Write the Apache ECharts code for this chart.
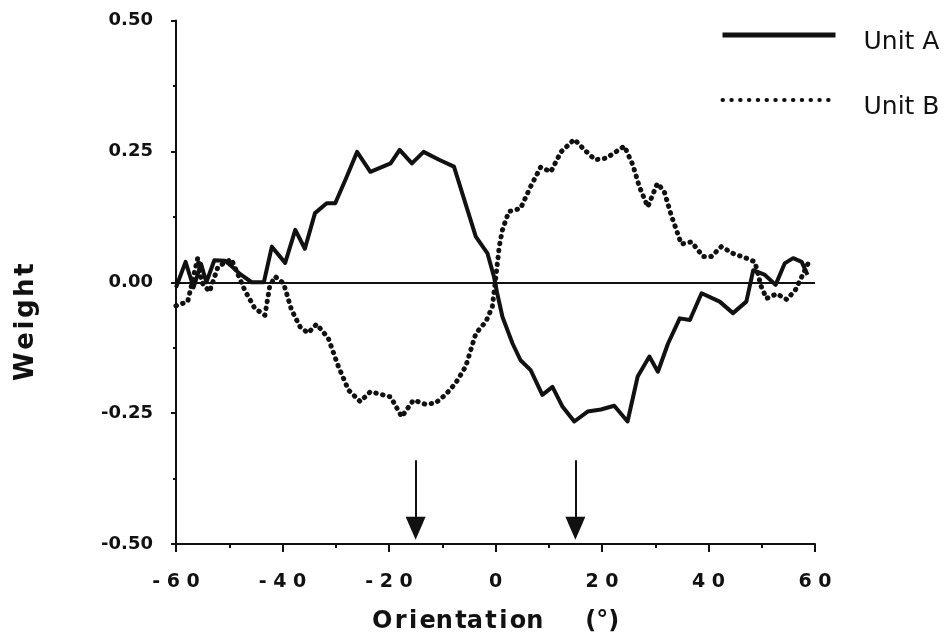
<!DOCTYPE html>
<html>
<head>
<meta charset="utf-8">
<script src="https://cdn.jsdelivr.net/npm/echarts@6/dist/echarts.min.js"></script>
<style>html,body{margin:0;padding:0;background:#fff;}#chart{width:946px;height:640px;}</style>
</head>
<body>
<div id="chart"></div>
<script>
// ---- data ----
var seriesNames = ['Unit A', 'Unit B'];
var unitA = [[-60,-0.01],[-58.2,0.039],[-56.7,-0.01],[-55.3,0.035],[-54.3,0.0],[-52.8,0.042],[-50.8,0.041],[-49.5,0.03],[-48,0.016],[-45.8,0.0],[-43.5,0.0],[-42,0.068],[-39.5,0.037],[-37.6,0.1],[-35.8,0.064],[-33.9,0.132],[-31.7,0.151],[-30.1,0.151],[-28,0.2],[-26,0.249],[-23.5,0.211],[-19.7,0.227],[-18,0.253],[-15.7,0.227],[-13.5,0.249],[-10.6,0.234],[-7.8,0.221],[-3.7,0.087],[-1.5,0.055],[-0.3,0.011],[0.3,-0.02],[1.3,-0.066],[3.2,-0.117],[4.7,-0.149],[6.6,-0.168],[8.8,-0.215],[10.7,-0.2],[12.6,-0.238],[14.8,-0.266],[17.3,-0.247],[19.8,-0.243],[22.3,-0.236],[24.8,-0.266],[26.7,-0.18],[28.9,-0.142],[30.5,-0.171],[32.4,-0.117],[34.6,-0.069],[36.5,-0.072],[38.7,-0.021],[42.1,-0.037],[44.6,-0.059],[47.1,-0.037],[48.4,0.023],[50.6,0.014],[52.6,-0.005],[54.3,0.036],[55.9,0.046],[57.5,0.039],[58.6,0.014]];
var unitB = [[-60,-0.045],[-57.8,-0.037],[-55.9,0.047],[-55.2,0.0],[-53.7,-0.018],[-52.1,0.03],[-49.6,0.044],[-48.7,0.023],[-47.1,-0.015],[-45.2,-0.05],[-43.3,-0.063],[-42.4,-0.008],[-41.4,0.011],[-39.8,-0.002],[-38.3,-0.053],[-36.7,-0.085],[-35.2,-0.097],[-33.6,-0.08],[-31.4,-0.107],[-29.5,-0.161],[-27.6,-0.206],[-25.4,-0.228],[-23.5,-0.209],[-19.7,-0.219],[-17.6,-0.257],[-15.4,-0.225],[-13.2,-0.233],[-11.3,-0.231],[-9.4,-0.215],[-7.5,-0.193],[-5.6,-0.161],[-3.7,-0.098],[-1.8,-0.075],[-0.6,-0.047],[0.0,0.004],[0.7,0.068],[1.3,0.10],[2.5,0.135],[4.7,0.141],[6.6,0.183],[8.5,0.22],[10.4,0.211],[12.3,0.249],[14.8,0.273],[16.7,0.253],[18.7,0.234],[20.8,0.237],[24.2,0.26],[25.8,0.224],[27.0,0.183],[28.6,0.144],[30.4,0.189],[31.7,0.173],[33.0,0.128],[34.9,0.073],[36.8,0.077],[39.0,0.049],[40.5,0.049],[42.4,0.068],[44.6,0.055],[47.1,0.046],[48.7,0.039],[49.9,-0.008],[50.9,-0.031],[52.8,-0.022],[54.7,-0.033],[56.3,-0.015],[57.2,0.004],[58.7,0.036]];
var xTicks = [-60, -40, -20, 0, 20, 40, 60];
var xTickLabels = ['- 6 0', '- 4 0', '- 2 0', '0', '2 0', '4 0', '6 0'];
var yTicks = [-0.5, -0.25, 0, 0.25, 0.5];
var yTickLabels = ['-0.50', '-0.25', '0.00', '0.25', '0.50'];
var arrowX = [-15, 15];
var arrowTop = -0.34;
var arrowEnd = -0.47;
var xName = 'O\u200Ar\u200Ai\u200Aen\u200Ata\u200At\u200Ai\u200Aon     (\u00B0)';
var yName = 'W\u200Ae\u200Ai\u200Ag\u200Ah\u200At';

var INK = '#111';
var FONT = '"DejaVu Sans", "Liberation Sans", sans-serif';

var chart = echarts.init(document.getElementById('chart'), null, {renderer: 'canvas'});

var arrowLines = arrowX.map(function (x) {
  return [
    {coord: [x, arrowTop], symbol: 'none'},
    {coord: [x, arrowEnd], symbol: 'triangle', symbolSize: [20, 23]}
  ];
});

var option = {
  backgroundColor: '#fff',
  animation: false,
  grid: {left: 176, right: 131, top: 20.5, bottom: 96},
  legend: {
    data: [
      {name: seriesNames[0], lineStyle: {width: 5}},
      {name: seriesNames[1], lineStyle: {width: 4, type: [0.5, 8.3], cap: 'round'}}
    ],
    orient: 'vertical',
    left: 715,
    top: 22,
    itemWidth: 113,
    itemHeight: 20,
    itemGap: 37,
    selectedMode: false,
    itemStyle: {opacity: 0},
    formatter: function (name) { return '{t|' + name + '}'; },
    textStyle: {
      fontFamily: FONT, fontSize: 25, color: INK, padding: [0, 0, 0, 23],
      rich: {t: {fontFamily: FONT, fontSize: 25, color: INK, lineHeight: 40, verticalAlign: 'bottom'}}
    }
  },
  xAxis: {
    type: 'value',
    min: -60, max: 60, interval: 20,
    axisLine: {show: true, onZero: false, lineStyle: {color: INK, width: 2}},
    axisTick: {show: true, inside: false, length: 8, lineStyle: {color: INK, width: 2}},
    minorTick: {show: true, splitNumber: 2, length: 4, lineStyle: {color: INK, width: 2}},
    splitLine: {show: false},
    minorSplitLine: {show: false},
    axisLabel: {
      margin: 29,
      fontFamily: FONT, fontWeight: 'bold', fontSize: 19, color: INK,
      formatter: function (v) {
        var i = xTicks.indexOf(Math.round(v));
        return i >= 0 ? xTickLabels[i] : '';
      }
    },
    name: xName,
    nameLocation: 'middle',
    nameGap: 66,
    nameTextStyle: {fontFamily: FONT, fontWeight: 'bold', fontSize: 24, color: INK}
  },
  yAxis: {
    type: 'value',
    min: -0.5, max: 0.5, interval: 0.25,
    axisLine: {show: true, onZero: false, lineStyle: {color: INK, width: 2}},
    axisTick: {show: true, inside: false, length: 5, lineStyle: {color: INK, width: 2}},
    minorTick: {show: true, splitNumber: 2, length: 3, lineStyle: {color: INK, width: 2}},
    splitLine: {show: false},
    minorSplitLine: {show: false},
    axisLabel: {
      margin: 23,
      fontFamily: FONT, fontWeight: 'bold', fontSize: 18, color: INK,
      formatter: function (v) {
        for (var i = 0; i < yTicks.length; i++) {
          if (Math.abs(yTicks[i] - v) < 1e-6) return yTickLabels[i];
        }
        return '';
      }
    },
    name: yName,
    nameLocation: 'middle',
    nameRotate: 90,
    nameGap: 137,
    nameTextStyle: {fontFamily: FONT, fontWeight: 'bold', fontSize: 26, color: INK, padding: [0, 80, 0, 0]}
  },
  series: [
    {
      name: seriesNames[0],
      type: 'line',
      data: unitA,
      symbol: 'none',
      lineStyle: {color: INK, width: 4, type: 'solid', join: 'round'},
      itemStyle: {color: INK},
      z: 3,
      markLine: {
        silent: true,
        symbol: ['none', 'none'],
        label: {show: false},
        emphasis: {disabled: true},
        lineStyle: {color: INK, width: 2, type: 'solid'},
        data: [{yAxis: 0}].concat(arrowLines)
      }
    },
    {
      name: seriesNames[1],
      type: 'line',
      data: unitB,
      symbol: 'none',
      lineStyle: {color: INK, width: 5, type: [0.5, 6.5], cap: 'round', join: 'round'},
      itemStyle: {color: INK},
      z: 3
    }
  ]
};
chart.setOption(option);
</script>
</body>
</html>
